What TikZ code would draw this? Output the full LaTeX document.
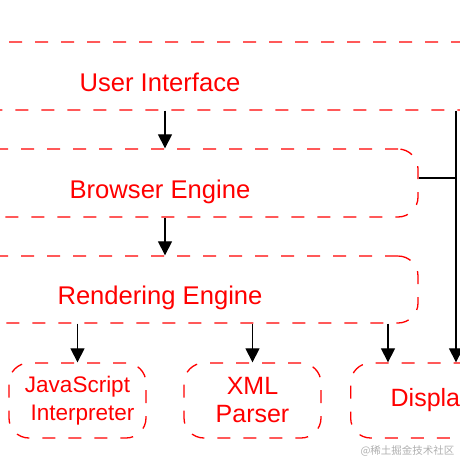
\documentclass[tikz,border=0pt]{standalone}
\usepackage{fontspec}
\setmainfont{Liberation Sans}
\newfontfamily\cjkfont{Noto Sans CJK SC}
\usetikzlibrary{arrows.meta}
\definecolor{layerred}{RGB}{255,0,0}
\definecolor{markgray}{RGB}{175,175,175}

\begin{document}
\begin{tikzpicture}[x=1pt,y=-1pt,
  layer/.style={draw=layerred,text=layerred,line width=1.3pt,dash pattern=on 13pt off 13pt,
    rounded corners=20pt,minimum height=68pt,inner sep=0pt,
    font=\fontsize{25.6pt}{30pt}\selectfont,text height=34.6pt,text depth=4.2pt},
  part/.style={draw=layerred,text=layerred,line width=1.3pt,dash pattern=on 13pt off 13pt,
    rounded corners=20pt,minimum width=137pt,minimum height=75pt,inner sep=0pt,align=center,
    font=\fontsize{25pt}{28pt}\selectfont},
  arr/.style={-{Triangle[width=14pt,length=14pt]},line width=1.2pt}]
\useasboundingbox (0,0) rectangle (460,460);
\clip (0,0) rectangle (460,460);
% Layers
\node[layer,minimum width=700pt] (ui) at (160,76) {User Interface};
\node[layer,minimum width=516pt] (brw) at (160,183) {Browser Engine};
\node[layer,minimum width=516pt,minimum height=67pt] (rend) at (160,289.5) {Rendering Engine};
% Components
\node[part,font=\fontsize{22.5pt}{28pt}\selectfont] (js) at (77.5,400.5) {JavaScript\\\hspace{10pt}Interpreter};
\node[part] (xml) at (252.5,400.5) {XML\\Parser};
\node[part,anchor=west,minimum width=162pt] (disp) at (350,400.5) {Display};
\coordinate (dpin) at ([xshift=38pt]disp.north west);
\coordinate (drop) at ([xshift=106pt]disp.north west);
% Connectors
\draw[arr] ([xshift=5pt]ui.south) -- ([xshift=5pt]brw.north);
\draw[arr] ([xshift=5pt]brw.south) -- ([xshift=5pt]rend.north);
\draw[arr] (rend.south -| js.north) -- (js.north);
\draw[arr] (rend.south -| xml.north) -- (xml.north);
\draw[arr] (rend.south -| dpin) -- (dpin);
\draw[arr] (ui.south -| drop) -- (drop);
\draw[line width=1.2pt] ([yshift=5pt]brw.east) -- ([yshift=5pt]brw.east -| drop);
% Watermark
\node[text=markgray,font=\cjkfont\fontsize{10.5pt}{12pt}\selectfont,anchor=east] (mark) at (458,451) {@稀土掘金技术社区};
\end{tikzpicture}
\end{document}
